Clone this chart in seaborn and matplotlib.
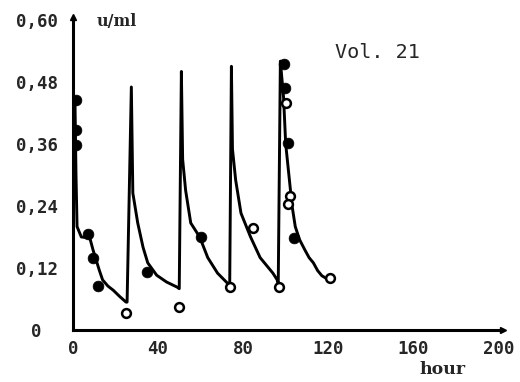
import matplotlib
matplotlib.use("Agg")
import matplotlib.pyplot as plt
import seaborn as sns
import pandas as pd

# Serum level curve (hours, u/ml) across five doses
curve_hours = [1.0, 1.5, 2.0, 4.0, 8.0, 9.5, 11.0, 12.5, 14.0, 16.5, 19.0, 22.0, 25.0,
               25.5, 27.5, 28.2, 30.5, 33.0, 35.2, 39.4, 44.0, 49.0,
               50.0, 51.0, 51.6, 53.0, 55.4, 59.6, 63.4, 68.0, 72.8,
               73.7, 74.5, 75.0, 76.5, 79.0, 83.5, 88.0, 94.0, 96.0,
               96.5, 97.5, 99.0, 100.0, 101.5, 103.0, 104.5, 106.5, 109.0, 111.0, 113.0,
               115.0, 117.0, 119.0, 120.5]
curve_values = [0.45, 0.30, 0.20, 0.18, 0.178, 0.155, 0.135, 0.115, 0.097, 0.085, 0.077, 0.065, 0.054,
                0.054, 0.47, 0.265, 0.207, 0.16, 0.13, 0.106, 0.093, 0.083,
                0.08, 0.50, 0.33, 0.27, 0.207, 0.18, 0.14, 0.11, 0.09,
                0.085, 0.51, 0.35, 0.29, 0.226, 0.18, 0.14, 0.11, 0.097,
                0.09, 0.52, 0.45, 0.36, 0.30, 0.24, 0.20, 0.175, 0.155, 0.14, 0.13,
                0.115, 0.105, 0.10, 0.10]

# Measured samples
filled_hours = [1.5, 1.5, 1.5, 7.0, 9.4, 11.7, 35.0, 60.0, 99.0, 99.5, 101.0, 104.0]
filled_values = [0.445, 0.387, 0.358, 0.186, 0.14, 0.085, 0.112, 0.18, 0.515, 0.468, 0.362, 0.178]
open_hours = [25.0, 50.0, 73.7, 84.5, 97.0, 100.0, 102.0, 101.0, 120.6]
open_values = [0.033, 0.045, 0.083, 0.197, 0.083, 0.44, 0.26, 0.244, 0.10]

x_ticks = [0, 40, 80, 120, 160, 200]
y_ticks = [0, 0.12, 0.24, 0.36, 0.48, 0.60]
y_tick_labels = ["0", "0,12", "0,24", "0,36", "0,48", "0,60"]

sns.set_style("white")
plt.rcParams["font.family"] = ["DejaVu Sans Mono", "DejaVu Sans"]

fig = plt.figure(figsize=(5.2, 3.82), dpi=100)
ax = fig.add_axes([0.140, 0.136, 0.827, 0.819])

curve = pd.DataFrame({"hour": curve_hours, "level": curve_values})
filled = pd.DataFrame({"hour": filled_hours, "level": filled_values})
hollow = pd.DataFrame({"hour": open_hours, "level": open_values})

sns.lineplot(data=curve, x="hour", y="level", sort=False, estimator=None,
             color="black", linewidth=2.1, ax=ax)
sns.scatterplot(data=filled, x="hour", y="level", color="black", s=60,
                edgecolor="black", linewidth=0.5, ax=ax, zorder=3)
sns.scatterplot(data=hollow, x="hour", y="level", facecolor="white", s=40,
                edgecolor="black", linewidth=1.8, ax=ax, zorder=3)

ax.set_xlim(0, 202)
ax.set_ylim(0, 0.605)

for side in ("top", "right"):
    ax.spines[side].set_visible(False)
for side in ("left", "bottom"):
    ax.spines[side].set_linewidth(2.2)
    ax.spines[side].set_color("black")

# arrow heads at the axis ends
ax.plot(1, 0, ">k", transform=ax.transAxes, clip_on=False, markersize=5)
ax.plot(0, 1, "^k", transform=ax.transAxes, clip_on=False, markersize=5)

ax.set_xticks(x_ticks)
ax.set_xticks(list(range(20, 200, 40)), minor=True)
ax.set_xticklabels([str(t) for t in x_ticks], fontweight="bold", fontsize=12.5)
ax.set_yticks(y_ticks)
ax.set_yticks([0.06, 0.18, 0.30, 0.42, 0.54], minor=True)
ax.set_yticklabels(y_tick_labels, fontweight="bold", fontsize=12.5, ha="center")

ax.tick_params(axis="both", which="both", direction="inout", length=6, width=1.8, color="black")
ax.tick_params(axis="y", which="major", pad=23)
ax.tick_params(axis="x", which="major", pad=4)

ax.set_xlabel("")
ax.set_ylabel("")

fig.text(97 / 520, 1 - 21 / 382, "u/ml", fontsize=11.5, fontweight="bold",
         family="DejaVu Serif", va="center", ha="left")
fig.text(443 / 520, 1 - 370 / 382, "hour", fontsize=12.5, fontweight="bold",
         family="DejaVu Serif", va="center", ha="center")
fig.text(335 / 520, 1 - 53 / 382, "Vol. 21", fontsize=14.5,
         family="DejaVu Sans Mono", va="center", ha="left")

fig.savefig("out.png", dpi=100, facecolor="white")
